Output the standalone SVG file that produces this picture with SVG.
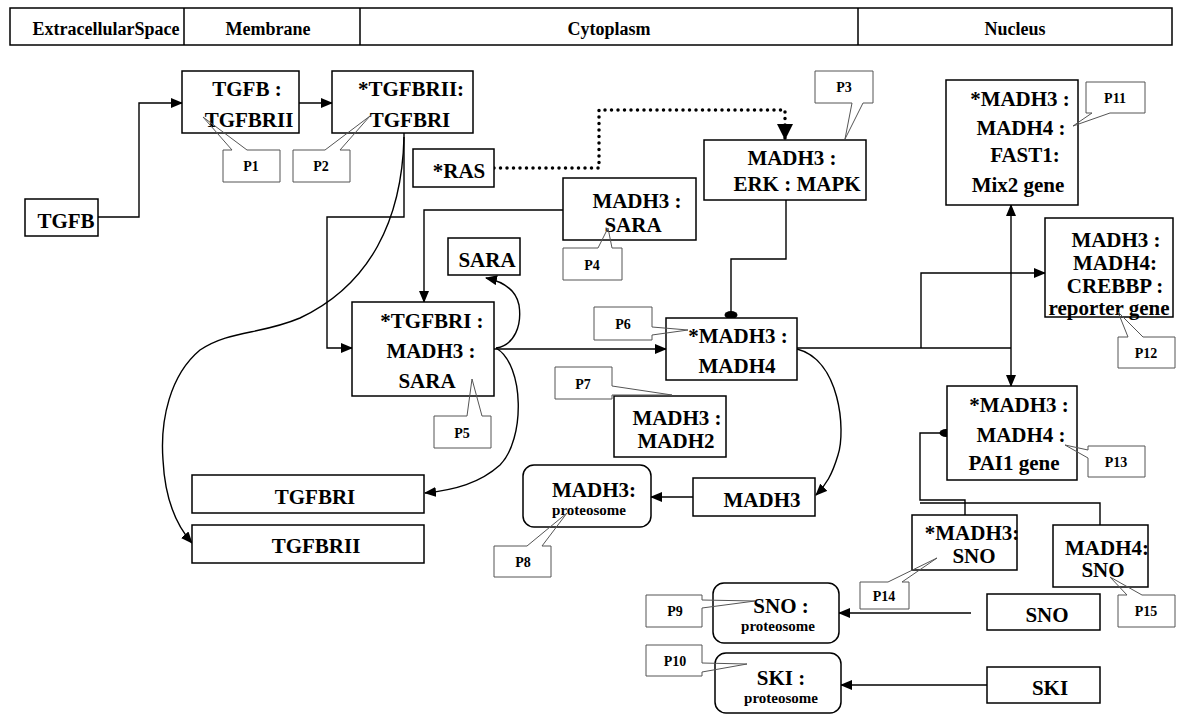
<svg xmlns="http://www.w3.org/2000/svg" width="1182" height="715" viewBox="0 0 1182 715">
<style>
.t{font-family:"Liberation Serif","Times New Roman",serif;font-weight:bold;font-size:21px;text-anchor:middle;fill:#000}
.h{font-size:18px}
.s{font-size:15px}
.pt{font-size:14px}
.n rect{fill:#fff;stroke:#000;stroke-width:1.5}
.co path{fill:none;stroke:#555;stroke-width:1}
#connectors path{fill:none;stroke:#000;stroke-width:1.4}
#connectors ellipse{fill:#000}
</style>
<defs>
<marker id="a" markerWidth="12" markerHeight="10" refX="11" refY="5" orient="auto-start-reverse" markerUnits="userSpaceOnUse"><path d="M0,0 L12,5 L0,10 z" fill="#000"/></marker>
<marker id="ab" markerWidth="16" markerHeight="16" refX="15" refY="8" orient="auto" markerUnits="userSpaceOnUse"><path d="M0,0 L16,8 L0,16 z" fill="#000"/></marker>
</defs>
<rect width="1182" height="715" fill="#fff"/>
<g id="header">
<rect x="10" y="8" width="1162" height="37" fill="#fff" stroke="#000" stroke-width="1.5"/>
<path d="M184,8 V45 M360,8 V45 M858,8 V45" stroke="#000" stroke-width="1.5"/>
<text class="t h" x="106" y="35">ExtracellularSpace</text>
<text class="t h" x="268" y="35">Membrane</text>
<text class="t h" x="609" y="35">Cytoplasm</text>
<text class="t h" x="1015" y="35">Nucleus</text>
</g>
<g id="connectors">
<path d="M98,217 H139 V103 H182" marker-end="url(#a)"/>
<path d="M299,103 H332" marker-end="url(#a)"/>
<path d="M404,133 V217 H327 V348 H352" marker-end="url(#a)"/>
<path d="M404,137 C402,220 370,285 300,318 C260,335 230,330 200,350 C170,375 160,420 163,460 C165,500 176,525 192,543" marker-end="url(#a)"/>
<path d="M563,210 H424 V302" marker-end="url(#a)"/>
<path d="M496,348 C515,345 522,325 519,305 C516,290 505,282 486,278" marker-end="url(#a)"/>
<path d="M496,348 C525,365 525,440 500,465 C480,483 455,490 425,493" marker-end="url(#a)"/>
<path d="M494,349 H666" marker-end="url(#a)"/>
<path d="M494,168 H599 V110 H785 V139" style="stroke-width:3.5;stroke-dasharray:0 6.5;stroke-linecap:round" marker-end="url(#ab)"/>
<path d="M786,200 V259 H731 V316"/>
<ellipse cx="731" cy="315" rx="6.5" ry="4"/>
<path d="M797,349 C840,360 846,430 838,455 C832,475 826,485 816,495" marker-end="url(#a)"/>
<path d="M693,497 H651" marker-end="url(#a)"/>
<path d="M797,348 H1011"/>
<path d="M921,348 V273 H1045" marker-end="url(#a)"/>
<path d="M1011,205 V386" marker-start="url(#a)" marker-end="url(#a)"/>
<path d="M946,433 H920 V500 H965 V515"/>
<path d="M920,503 H1100 V525"/>
<ellipse cx="946" cy="433" rx="6.5" ry="4"/>
<path d="M971,613 H839" marker-end="url(#a)"/>
<path d="M987,685 H841" marker-end="url(#a)"/>
</g>
<g id="n_tgfb" class="n"><rect x="25" y="199" width="73" height="37"/><text class="t" x="66" y="228">TGFB</text></g>
<g id="n_tgfb_tgfbrii" class="n"><rect x="182" y="71" width="117" height="62"/><text class="t" x="247" y="96">TGFB :</text><text class="t" x="249" y="127">TGFBRII</text></g>
<g id="n_tgfbrii_tgfbri" class="n"><rect x="332" y="71" width="141" height="62"/><text class="t" x="411" y="96">*TGFBRII:</text><text class="t" x="410" y="127">TGFBRI</text></g>
<g id="n_ras" class="n"><rect x="413" y="149" width="81" height="38"/><text class="t" x="459" y="178">*RAS</text></g>
<g id="n_erk" class="n"><rect x="704" y="140" width="162" height="60"/><text class="t" x="792" y="165">MADH3 :</text><text class="t" x="797" y="191">ERK : MAPK</text></g>
<g id="n_madh3_sara" class="n"><rect x="563" y="178" width="133" height="62"/><text class="t" x="637" y="208">MADH3 :</text><text class="t" x="633" y="232">SARA</text></g>
<g id="n_sara" class="n"><rect x="448" y="238" width="72" height="37"/><text class="t" x="487" y="267">SARA</text></g>
<g id="n_tgfbri_madh3_sara" class="n"><rect x="352" y="302" width="142" height="94"/><text class="t" x="432" y="328">*TGFBRI :</text><text class="t" x="431" y="358">MADH3 :</text><text class="t" x="427" y="388">SARA</text></g>
<g id="n_madh3_madh4" class="n"><rect x="666" y="318" width="131" height="62"/><text class="t" x="738" y="343">*MADH3 :</text><text class="t" x="737" y="373">MADH4</text></g>
<g id="n_madh3_madh2" class="n"><rect x="614" y="396" width="112" height="61"/><text class="t" x="677" y="425">MADH3 :</text><text class="t" x="676" y="448">MADH2</text></g>
<g id="n_mix2" class="n"><rect x="946" y="80" width="132" height="125"/><text class="t" x="1020" y="106">*MADH3 :</text><text class="t" x="1021" y="135">MADH4 :</text><text class="t" x="1025" y="162">FAST1:</text><text class="t" x="1018" y="192">Mix2 gene</text></g>
<g id="n_crebbp" class="n"><rect x="1045" y="218" width="128" height="99"/><text class="t" x="1116" y="247">MADH3 :</text><text class="t" x="1115" y="270">MADH4:</text><text class="t" x="1115" y="293">CREBBP :</text><text class="t" x="1109" y="315">reporter gene</text></g>
<g id="n_pai1" class="n"><rect x="947" y="386" width="130" height="94"/><text class="t" x="1019" y="412">*MADH3 :</text><text class="t" x="1021" y="442">MADH4 :</text><text class="t" x="1014" y="470">PAI1 gene</text></g>
<g id="n_tgfbri" class="n"><rect x="192" y="475" width="232" height="38"/><text class="t" x="315" y="504">TGFBRI</text></g>
<g id="n_tgfbrii" class="n"><rect x="192" y="525" width="232" height="38"/><text class="t" x="316" y="553">TGFBRII</text></g>
<g id="n_madh3_prot" class="n"><rect x="523" y="465" width="128" height="62" rx="11"/><text class="t" x="594" y="497">MADH3:</text><text class="t s" x="589" y="515">proteosome</text></g>
<g id="n_madh3" class="n"><rect x="693" y="478" width="122" height="38"/><text class="t" x="762" y="507">MADH3</text></g>
<g id="n_madh3_sno" class="n"><rect x="912" y="515" width="105" height="55"/><text class="t" x="972" y="540">*MADH3:</text><text class="t" x="974" y="563">SNO</text></g>
<g id="n_madh4_sno" class="n"><rect x="1053" y="525" width="95" height="62"/><text class="t" x="1107" y="555">MADH4:</text><text class="t" x="1103" y="577">SNO</text></g>
<g id="n_sno" class="n"><rect x="987" y="594" width="113" height="36"/><text class="t" x="1047" y="622">SNO</text></g>
<g id="n_sno_prot" class="n"><rect x="713" y="583" width="126" height="60" rx="11"/><text class="t" x="781" y="613">SNO :</text><text class="t s" x="778" y="631">proteosome</text></g>
<g id="n_ski_prot" class="n"><rect x="715" y="653" width="126" height="60" rx="11"/><text class="t" x="781" y="685">SKI :</text><text class="t s" x="781" y="703">proteosome</text></g>
<g id="n_ski" class="n"><rect x="987" y="667" width="113" height="36"/><text class="t" x="1050" y="695">SKI</text></g>
<g id="callouts" class="co">
<g id="p1"><path d="M223,150 H232 L203,117 L247,150 H280 V182 H223 Z"/><text class="t pt" x="251" y="171">P1</text></g>
<g id="p2"><path d="M293,150 H325 L370,116 L340,150 H350 V182 H293 Z"/><text class="t pt" x="321" y="171">P2</text></g>
<g id="p3"><path d="M815,71 H873 V103 H863 L845,139 L852,103 H815 Z"/><text class="t pt" x="844" y="92">P3</text></g>
<g id="p4"><path d="M563,248 H598 L608,228 L612,248 H622 V280 H563 Z"/><text class="t pt" x="592" y="270">P4</text></g>
<g id="p5"><path d="M434,416 H467 L472,379 L482,416 H491 V448 H434 Z"/><text class="t pt" x="462" y="438">P5</text></g>
<g id="p6"><path d="M594,307 H652 V327 L688,330 L652,335 V340 H594 Z"/><text class="t pt" x="623" y="329">P6</text></g>
<g id="p7"><path d="M555,367 H612 V386 L672,395 L612,395 V399 H555 Z"/><text class="t pt" x="583" y="389">P7</text></g>
<g id="p8"><path d="M494,546 H527 L567,513 L542,546 H551 V577 H494 Z"/><text class="t pt" x="523" y="567">P8</text></g>
<g id="p9"><path d="M646,595 H702 V600 L755,601 L702,608 V627 H646 Z"/><text class="t pt" x="675" y="616">P9</text></g>
<g id="p10"><path d="M646,645 H702 V663 L747,664 L702,672 V676 H646 Z"/><text class="t pt" x="675" y="666">P10</text></g>
<g id="p11"><path d="M1086,82 H1145 V113 H1110 L1073,126 L1092,113 H1086 Z"/><text class="t pt" x="1115" y="103">P11</text></g>
<g id="p12"><path d="M1118,337 H1128 L1118,312 L1143,337 H1175 V368 H1118 Z"/><text class="t pt" x="1146" y="358">P12</text></g>
<g id="p13"><path d="M1088,446 H1145 V477 H1088 V458 L1065,445 L1088,450 Z"/><text class="t pt" x="1116" y="467">P13</text></g>
<g id="p14"><path d="M860,582 H888 L937,558 L902,582 H909 V609 H860 Z"/><text class="t pt" x="884" y="601">P14</text></g>
<g id="p15"><path d="M1118,595 H1127 L1110,577 L1142,595 H1175 V627 H1118 Z"/><text class="t pt" x="1146" y="616">P15</text></g>
</g>
</svg>
